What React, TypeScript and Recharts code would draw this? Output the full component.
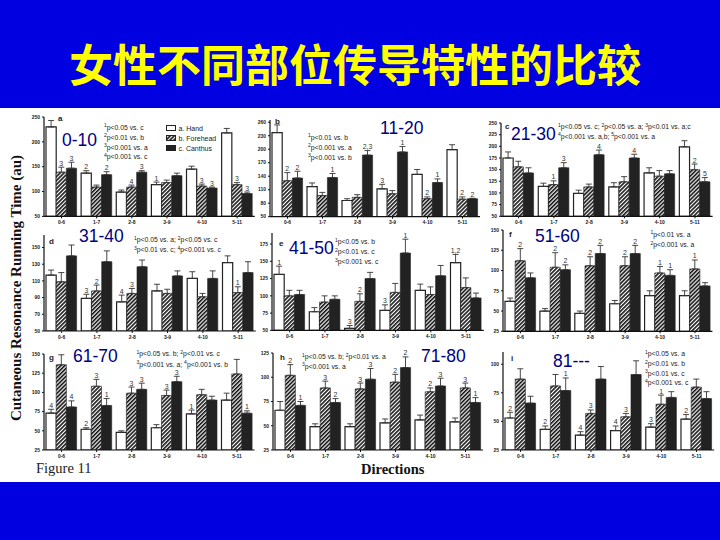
import { BarChart, Bar, XAxis, YAxis, ErrorBar, LabelList, Legend } from "recharts";

// Eje x compartido por los nueve paneles
const directions = ["0-6", "1-7", "2-8", "3-9", "4-10", "5-11"];

// a: 0-10
const handA = [230, 137, 99, 114, 145, 218];
const handTopA = [243, 142, 103, 119, 151, 227];
const foreheadA = [139, 109, 109, 118, 111, 114];
const foreheadTopA = [149, 113, 113, 123, 115, 118];
const canthusA = [147, 134, 139, 132, 107, 96];
const canthusTopA = [159, 140, 142, 137, 109, 99];
const handMarksA = ["", "2", "", "1", "", ""];
const foreheadMarksA = ["3", "", "4", "", "3", "3"];
const canthusMarksA = ["3", "2", "3", "", "3", "3"];

// b: 11-20
const handB = [237, 117, 86, 112, 144, 199];
const handTopB = [254, 125, 90, 122, 155, 210];
const foreheadB = [130, 97, 93, 101, 90, 89];
const foreheadTopB = [148, 104, 99, 108, 94, 94];
const canthusB = [136, 137, 187, 194, 126, 90];
const canthusTopB = [151, 146, 197, 206, 134, 91];
const handMarksB = ["", "", "", "3", "", ""];
const foreheadMarksB = ["2", "", "", "", "2", "2"];
const canthusMarksB = ["2", "1", "2,3", "1", "1", "2"];

// c: 21-30
const handC = [175, 114, 99, 113, 143, 199];
const handTopC = [188, 121, 106, 122, 154, 212];
const foreheadC = [156, 118, 113, 124, 136, 150];
const foreheadTopC = [168, 126, 119, 135, 148, 162];
const canthusC = [143, 154, 182, 175, 141, 124];
const canthusTopC = [154, 165, 192, 183, 148, 133];
const handMarksC = ["", "", "", "", "", ""];
const foreheadMarksC = ["", "1", "", "", "", "2"];
const canthusMarksC = ["", "3", "4", "4", "", "5"];

// d: 31-40
const handD = [117, 89, 85, 98, 113, 132];
const handTopD = [123, 94, 93, 106, 121, 140];
const foreheadD = [109, 98, 95, 95, 91, 96];
const foreheadTopD = [120, 105, 101, 100, 95, 103];
const canthusD = [140, 133, 127, 116, 113, 120];
const canthusTopD = [153, 146, 135, 122, 122, 133];
const handMarksD = ["", "3", "4", "", "", ""];
const foreheadMarksD = ["", "2", "3", "", "", "1"];
const canthusMarksD = ["", "", "", "", "", ""];

// e: 41-50
const handE = [131, 77, 53, 79, 108, 148];
const handTopE = [143, 83, 57, 87, 117, 160];
const foreheadE = [100, 91, 92, 105, 102, 112];
const foreheadTopE = [108, 100, 103, 118, 113, 126];
const canthusE = [102, 95, 125, 162, 129, 97];
const canthusTopE = [108, 100, 134, 182, 144, 104];
const handMarksE = ["1", "", "3", "3", "", "1,2"];
const foreheadMarksE = ["", "", "2", "", "", ""];
const canthusMarksE = ["", "", "", "1", "", ""];

// f: 51-60
const handF = [62, 50, 47, 59, 69, 69];
const handTopF = [66, 53, 50, 63, 75, 75];
const foreheadF = [112, 104, 106, 106, 97, 102];
const foreheadTopF = [127, 122, 117, 117, 105, 113];
const canthusF = [91, 101, 121, 121, 94, 81];
const canthusTopF = [97, 107, 131, 131, 101, 85];
const handMarksF = ["", "", "", "", "", ""];
const foreheadMarksF = ["2", "2", "2", "2", "1", "1"];
const canthusMarksF = ["", "2", "2", "2", "1", ""];

// g: 61-70
const handG = [73, 52, 48, 54, 72, 90];
const handTopG = [78, 54, 50, 58, 77, 99];
const foreheadG = [136, 108, 99, 96, 97, 124];
const foreheadTopG = [149, 117, 107, 103, 104, 143];
const canthusG = [81, 83, 104, 114, 90, 73];
const canthusTopG = [89, 92, 112, 121, 95, 76];
const handMarksG = ["4", "2", "", "", "1", ""];
const foreheadMarksG = ["", "3", "3", "3", "", ""];
const canthusMarksG = ["4", "1", "3", "3", "", "1"];

// h: 71-80
const handH = [66, 49, 49, 53, 56, 54];
const handTopH = [75, 52, 52, 57, 61, 58];
const foreheadH = [102, 89, 88, 95, 85, 89];
const foreheadTopH = [113, 96, 94, 103, 89, 94];
const canthusH = [71, 74, 98, 110, 91, 74];
const canthusTopH = [75, 78, 109, 121, 99, 79];
const handMarksH = ["", "", "", "", "", ""];
const foreheadMarksH = ["2", "3", "3", "2", "2", "3"];
const canthusMarksH = ["1", "2", "3", "2", "3", "1"];

// i: 81---
const handI = [53, 43, 38, 42, 45, 52];
const handTopI = [58, 46, 41, 46, 48, 56];
const foreheadI = [87, 81, 57, 54, 65, 80];
const foreheadTopI = [96, 91, 60, 57, 73, 87];
const canthusI = [66, 77, 87, 91, 71, 70];
const canthusTopI = [72, 88, 98, 103, 76, 76];
const handMarksI = ["2", "2", "4", "4", "3", "2"];
const foreheadMarksI = ["", "", "3", "3", "1", ""];
const canthusMarksI = ["", "1", "", "", "", ""];

const seriesNames = ["a. Hand", "b. Forehead", "c. Canthus"];
const ticks250 = [50, 100, 150, 200, 250];
const ticks260 = [50, 80, 110, 140, 170, 200, 230, 260];
const ticks25 = [50, 75, 100, 125, 150, 175, 200, 225, 250];
const ticks150 = [50, 70, 90, 110, 130, 150];
const ticks175 = [50, 75, 100, 125, 150, 175];
const ticksLow150 = [25, 50, 75, 100, 125, 150];
const ticks125 = [25, 50, 75, 100, 125];
const ticks100 = [25, 50, 75, 100];

const buildRows = (
  hand: number[], handTop: number[], forehead: number[], foreheadTop: number[],
  canthus: number[], canthusTop: number[],
  handMarks: string[], foreheadMarks: string[], canthusMarks: string[]
) =>
  directions.map((name, i) => ({
    name,
    hand: hand[i],
    forehead: forehead[i],
    canthus: canthus[i],
    handErr: [0, handTop[i] - hand[i]],
    foreheadErr: [0, foreheadTop[i] - forehead[i]],
    canthusErr: [0, canthusTop[i] - canthus[i]],
    handGap: handTop[i] - hand[i],
    foreheadGap: foreheadTop[i] - forehead[i],
    canthusGap: canthusTop[i] - canthus[i],
    handMark: handMarks[i],
    foreheadMark: foreheadMarks[i],
    canthusMark: canthusMarks[i],
  }));

const panels = [
  { id: "a", left: 44, band: 35.13, top: 117.3, bottom: 216.7, domain: [50, 250], ticks: ticks250,
    rows: buildRows(handA, handTopA, foreheadA, foreheadTopA, canthusA, canthusTopA, handMarksA, foreheadMarksA, canthusMarksA), legend: true },
  { id: "b", left: 270, band: 35, top: 120, bottom: 216.7, domain: [50, 265], ticks: ticks260,
    rows: buildRows(handB, handTopB, foreheadB, foreheadTopB, canthusB, canthusTopB, handMarksB, foreheadMarksB, canthusMarksB) },
  { id: "c", left: 500.5, band: 35.27, top: 122.7, bottom: 216, domain: [50, 250], ticks: ticks25,
    rows: buildRows(handC, handTopC, foreheadC, foreheadTopC, canthusC, canthusTopC, handMarksC, foreheadMarksC, canthusMarksC) },
  { id: "d", left: 44, band: 35.3, top: 235, bottom: 331, domain: [50, 165], ticks: ticks150,
    rows: buildRows(handD, handTopD, foreheadD, foreheadTopD, canthusD, canthusTopD, handMarksD, foreheadMarksD, canthusMarksD) },
  { id: "e", left: 272, band: 35.3, top: 233.3, bottom: 330.7, domain: [50, 191], ticks: ticks175,
    rows: buildRows(handE, handTopE, foreheadE, foreheadTopE, canthusE, canthusTopE, handMarksE, foreheadMarksE, canthusMarksE) },
  { id: "f", left: 503, band: 34.9, top: 229.7, bottom: 331, domain: [25, 150], ticks: ticksLow150,
    rows: buildRows(handF, handTopF, foreheadF, foreheadTopF, canthusF, canthusTopF, handMarksF, foreheadMarksF, canthusMarksF) },
  { id: "g", left: 43.5, band: 35.1, top: 354.3, bottom: 450.3, domain: [25, 150], ticks: ticksLow150,
    rows: buildRows(handG, handTopG, foreheadG, foreheadTopG, canthusG, canthusTopG, handMarksG, foreheadMarksG, canthusMarksG) },
  { id: "h", left: 273.3, band: 35, top: 353.3, bottom: 450.3, domain: [25, 125], ticks: ticks125,
    rows: buildRows(handH, handTopH, foreheadH, foreheadTopH, canthusH, canthusTopH, handMarksH, foreheadMarksH, canthusMarksH) },
  { id: "i", left: 503.3, band: 35.2, top: 351.7, bottom: 449.7, domain: [25, 110.7], ticks: ticks100,
    rows: buildRows(handI, handTopI, foreheadI, foreheadTopI, canthusI, canthusTopI, handMarksI, foreheadMarksI, canthusMarksI) },
];

// Rótulos sueltos de la diapositiva: [texto, x, centro y]
const ageLabels: [string, number, number][] = [
  ["0-10", 62, 141], ["11-20", 380, 129], ["21-30", 511, 135],
  ["31-40", 79, 237], ["41-50", 289, 249], ["51-60", 535, 237],
  ["61-70", 73, 357], ["71-80", 421, 357], ["81---", 553, 362],
];
const panelLetters: [string, number, number][] = [
  ["a", 58, 119], ["b", 275, 122], ["c", 505, 127],
  ["d", 49, 242], ["e", 279, 244], ["f", 509, 235],
  ["g", 49, 358], ["h", 280, 358], ["i", 511, 359],
];
const notes: [string, number, number][] = [
  ["¹p<0.05 vs. c", 104, 127.5], ["²p<0.01 vs. b", 104, 137.5], ["³p<0.001 vs. a", 104, 147.5], ["⁴p<0.001 vs. c", 104, 157],
  ["¹p<0.01 vs. b", 308, 137.5], ["²p<0.001 vs. a", 308, 147.5], ["³p<0.001 vs. b", 308, 157.5],
  ["¹p<0.05 vs. c; ²p<0.05 vs. a; ³p<0.01 vs. a;c", 558, 127], ["⁴p<0.001 vs. a,b; ⁵p<0.001 vs. a", 558, 136.5],
  ["¹p<0.05 vs. a; ²p<0.05 vs. c", 134, 240], ["³p<0.01 vs. c; ⁴p<0.001 vs. c", 134, 250],
  ["¹p<0.05 vs. b", 335, 242], ["²p<0.01 vs. c", 335, 252], ["³p<0.001 vs. c", 335, 262],
  ["¹p<0.01 vs. a", 650.5, 234.5], ["²p<0.001 vs. a", 650.5, 245],
  ["¹p<0.05 vs. b; ²p<0.01 vs. c", 136.5, 354], ["³p<0.001 vs. a; ⁴p<0.001 vs. b", 136.5, 364.5],
  ["¹p<0.05 vs. b; ²p<0.01 vs. a", 302, 357], ["³p<0.001 vs. a", 302, 366.5],
  ["¹p<0.05 vs. a", 645, 354], ["²p<0.01 vs. b", 645, 364], ["³p<0.01 vs. c", 645, 373.5], ["⁴p<0.001 vs. c", 645, 383],
];

const SUPERS = "¹²³⁴⁵";
const SANS = "'Liberation Sans', Arial, sans-serif";
const SERIF = "'Liberation Serif', 'Times New Roman', serif";
const AXIS_W = 24;
const TOP_PAD = 12;
const X_AXIS_H = 14;

const place = (x: number, y: number) => ({
  position: "absolute" as const,
  left: x,
  top: y,
  transform: "translateY(-50%)",
  whiteSpace: "nowrap" as const,
  lineHeight: 1,
});

// Los superíndices se dibujan como dígito pequeño y levantado
const noteParts = (text: string) =>
  Array.from(text).map((ch, i) =>
    SUPERS.includes(ch) ? (
      <span key={i} style={{ fontSize: 5, position: "relative", top: -2.5 }}>{SUPERS.indexOf(ch) + 1}</span>
    ) : (
      ch
    )
  );

const legendContent = (hatchId: string) => () => (
  <div style={{ fontFamily: SANS, fontSize: 7, color: "#222" }}>
    {seriesNames.map((name, i) => (
      <div key={name} style={{ display: "flex", alignItems: "center", height: 10, gap: 2.5 }}>
        <svg width={10} height={6}>
          <rect x={0.5} y={0.5} width={9} height={5} stroke="#222"
            fill={i === 0 ? "#fff" : i === 1 ? `url(#${hatchId})` : "#222"} />
        </svg>
        {name}
      </div>
    ))}
  </div>
);

const Panel = ({ panel }: { panel: (typeof panels)[number] }) => {
  const plotH = panel.bottom - panel.top;
  const plotW = panel.band * 6;
  const pxPerUnit = plotH / (panel.domain[1] - panel.domain[0]);
  const hatchId = `hatch-${panel.id}`;

  // El rótulo va encima del bigote de error, no encima de la barra
  const markLabel = (gapKey: string) => (props: any) => {
    const { value, index } = props;
    if (!value) return null;
    const box = props.viewBox ?? props;
    const gap = panel.rows[index][gapKey] * pxPerUnit;
    return (
      <text x={box.x + box.width / 2} y={box.y - gap - 1.5} textAnchor="middle"
        fontSize={7} fontFamily={SANS} fill="#333">
        {value}
      </text>
    );
  };

  return (
    <div style={{ position: "absolute", left: panel.left - AXIS_W, top: panel.top - TOP_PAD }}>
      <BarChart
        width={AXIS_W + plotW + 2}
        height={TOP_PAD + plotH + X_AXIS_H}
        data={panel.rows}
        margin={{ top: TOP_PAD, right: 2, bottom: 0, left: 0 }}
        barSize={10.2}
        barGap={0}
        style={{ overflow: "visible" }}
      >
        <defs>
          <pattern id={hatchId} width={2.8} height={2.8} patternUnits="userSpaceOnUse" patternTransform="rotate(45)">
            <rect width={2.8} height={2.8} fill="#fff" />
            <rect width={1.6} height={2.8} fill="#111" />
          </pattern>
        </defs>
        <XAxis dataKey="name" interval={0} height={X_AXIS_H} tickSize={2}
          tick={{ fontSize: 5, fontFamily: SANS, fill: "#222", fontWeight: 700 }}
          axisLine={{ stroke: "#111", strokeWidth: 1.2 }} tickLine={{ stroke: "#111" }} />
        <YAxis type="number" domain={panel.domain} ticks={panel.ticks} interval={0} width={AXIS_W} tickSize={2}
          allowDataOverflow
          tick={{ fontSize: 5, fontFamily: SANS, fill: "#222", fontWeight: 700 }}
          axisLine={{ stroke: "#111", strokeWidth: 1.2 }} tickLine={{ stroke: "#111" }} />
        {panel.legend && (
          <Legend content={legendContent(hatchId)} layout="vertical" align="center" verticalAlign="middle"
            wrapperStyle={{ position: "absolute", left: 166 - panel.left + AXIS_W, top: 123.5 - panel.top + TOP_PAD, width: 60, bottom: "auto" }} />
        )}
        <Bar dataKey="hand" name={seriesNames[0]} fill="#fff" stroke="#222" strokeWidth={1.2} isAnimationActive={false}>
          <ErrorBar dataKey="handErr" direction="y" width={3} stroke="#333" strokeWidth={0.9} isAnimationActive={false} />
          <LabelList dataKey="handMark" content={markLabel("handGap")} />
        </Bar>
        <Bar dataKey="forehead" name={seriesNames[1]} fill={`url(#${hatchId})`} stroke="#222" strokeWidth={0.6} isAnimationActive={false}>
          <ErrorBar dataKey="foreheadErr" direction="y" width={3} stroke="#333" strokeWidth={0.9} isAnimationActive={false} />
          <LabelList dataKey="foreheadMark" content={markLabel("foreheadGap")} />
        </Bar>
        <Bar dataKey="canthus" name={seriesNames[2]} fill="#222" stroke="#222" strokeWidth={0.6} isAnimationActive={false}>
          <ErrorBar dataKey="canthusErr" direction="y" width={3} stroke="#333" strokeWidth={0.9} isAnimationActive={false} />
          <LabelList dataKey="canthusMark" content={markLabel("canthusGap")} />
        </Bar>
      </BarChart>
    </div>
  );
};

const App = () => (
  <div style={{ position: "absolute", left: 0, top: 0, width: 720, height: 540, background: "#0000e0", overflow: "hidden" }}>
    <div style={{ position: "absolute", left: 0, top: 108, width: 720, height: 374, background: "#fff" }} />
    <div style={{
      ...place(67, 63), width: 576, textAlign: "center",
      fontFamily: "'Noto Sans CJK SC', sans-serif", fontSize: 44, fontWeight: 700, color: "#ffff00",
    }}>
      女性不同部位传导特性的比较
    </div>
    {panels.map((p) => <Panel key={p.id} panel={p} />)}
    {notes.map(([text, x, y]) => (
      <div key={`${text}-${x}-${y}`} style={{ ...place(x, y), fontFamily: SANS, fontSize: 6.8, color: "#222" }}>{noteParts(text)}</div>
    ))}
    {panelLetters.map(([text, x, y]) => (
      <div key={text} style={{ ...place(x, y), fontFamily: SANS, fontSize: 8, fontWeight: 700, color: "#222" }}>{text}</div>
    ))}
    {ageLabels.map(([text, x, y]) => (
      <div key={text} style={{ ...place(x, y), fontFamily: SANS, fontSize: 17.5, color: "#000080" }}>{text}</div>
    ))}
    <div style={{
      position: "absolute", left: 16, top: 288, transform: "translate(-50%, -50%) rotate(-90deg)",
      whiteSpace: "nowrap", fontFamily: SERIF, fontWeight: 700, fontSize: 15, color: "#111",
    }}>
      Cutaneous Resonance Running Time (au)
    </div>
    <div style={{ ...place(36, 468), fontFamily: SERIF, fontSize: 14.5, color: "#222" }}>Figure 11</div>
    <div style={{ ...place(361, 469), fontFamily: SERIF, fontSize: 14.5, fontWeight: 700, color: "#111" }}>Directions</div>
  </div>
);

export default App;
